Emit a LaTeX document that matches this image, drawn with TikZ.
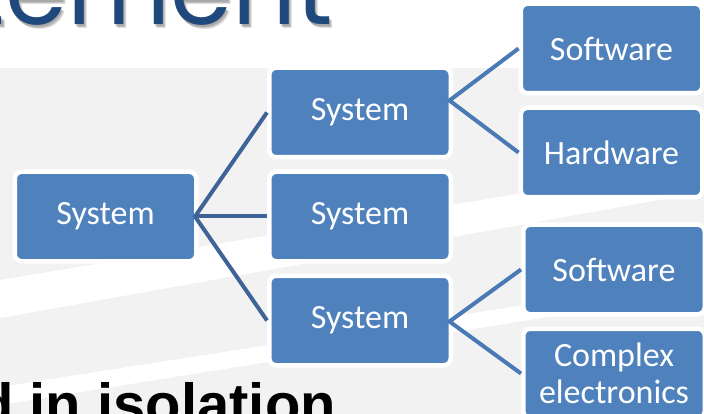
\documentclass[tikz,border=0pt]{standalone}
\usepackage{fontspec}
\setmainfont{Carlito}
\newfontfamily\titlefont{Poppins}
\newfontfamily\bodyfont{Liberation Sans}
\usetikzlibrary{calc}
\definecolor{boxblue}{RGB}{79,129,189}
\definecolor{lineA}{RGB}{62,100,151}
\definecolor{lineB}{RGB}{74,122,181}
\definecolor{bggray}{RGB}{242,242,242}
\definecolor{titleblue}{RGB}{31,73,125}
\begin{document}
\begin{tikzpicture}[x=1pt,y=-1pt,
  box/.style={draw=white, line width=4.5pt, fill=boxblue, rounded corners=7pt,
    minimum width=181.5pt, minimum height=89.5pt, inner sep=0pt, text=white,
    font=\fontsize{34}{37}\selectfont, align=center},
  conA/.style={draw=lineA, line width=4pt, miter limit=20},
  conB/.style={draw=lineB, line width=4pt, miter limit=20},
  titletext/.style={anchor=base east, inner sep=0pt, font=\titlefont\fontsize{100}{100}\selectfont},
  shadowtext/.style={titletext, text=black, opacity=0.13},
  bodytext/.style={anchor=base west, inner sep=0pt, font=\bodyfont\bfseries\fontsize{58}{58}\selectfont}]
\useasboundingbox (0,0) rectangle (704,414);
\clip (0,0) rectangle (704,414);
% background
\fill[white] (0,0) rectangle (704,414);
\fill[bggray] (0,68) rectangle (704,414);
\fill[white] (0,280) -- (704,163) -- (704,192) -- (0,318) -- cycle;
\fill[white] (0,387) -- (704,277) -- (704,292) -- (0,405) -- cycle;
% title (with soft shadow) and body text
\node[shadowtext] (sh1) at (334.5,26.5) {tement};
\node[shadowtext] (sh2) at (335.5,27.5) {tement};
\node[shadowtext] (sh3) at (336.5,28.5) {tement};
\node[titletext, text=titleblue] (title) at (333,25) {tement};
\node[bodytext] (body) at (-22,424) {d in isolation};
% boxes
\node[box] (root) at (105.5,216.5) {System};
\node[box] (m1) at (360,112.5) {System};
\node[box] (m2) at (360,216.5) {System};
\node[box] (m3) at (360,320.5) {System};
\node[box] (s1) at (611.5,48.5) {Software};
\node[box] (h) at (611.5,152.5) {Hardware};
\node[box] (s2) at (614,269.5) {Software};
\node[box] (c) at (614,373.5) {Complex\\electronics};
% connectors
\coordinate (f0) at ($(root.east)+(-3.5,0)$);
\draw[conA] (m1.west) -- (f0) -- (m3.west);
\draw[conA] (f0) -- (m2.west);
\path ($(s1.west)!0.5!(h.west)$) coordinate (q1);
\coordinate (f1) at ($(m1.east |- q1)+(-3.5,0)$);
\draw[conB] (s1.west) -- (f1) -- (h.west);
\path ($(s2.west)!0.5!(c.west)$) coordinate (q3);
\coordinate (f3) at ($(m3.east |- q3)+(-3.5,0)$);
\draw[conB] (s2.west) -- (f3) -- (c.west);
\end{tikzpicture}
\end{document}
